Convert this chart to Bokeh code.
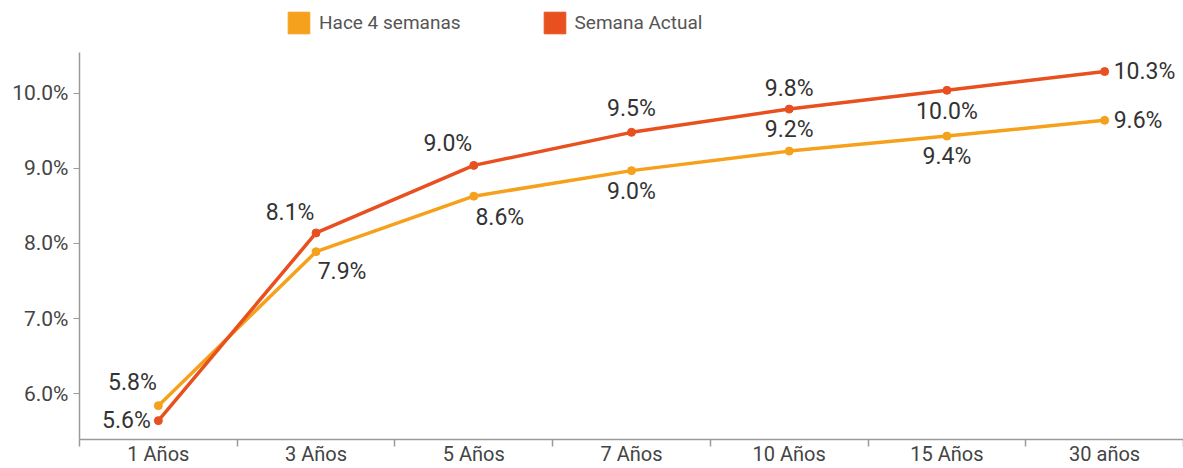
from bokeh.plotting import figure, ColumnDataSource
from bokeh.models import (Range1d, FixedTicker, SingleIntervalTicker, PrintfTickFormatter,
                          Legend, LegendItem)
from bokeh.core.properties import value
from bokeh.embed import file_html
from bokeh.resources import INLINE

# ---- data ----
categories = ["1 Años", "3 Años", "5 Años", "7 Años", "10 Años", "15 Años", "30 años"]
hace_4_semanas = [5.84, 7.89, 8.63, 8.97, 9.23, 9.43, 9.64]
semana_actual = [5.64, 8.14, 9.04, 9.48, 9.79, 10.04, 10.29]
series_names = ["Hace 4 semanas", "Semana Actual"]

# ---- styles / label placement ----
ORANGE = "#f6a11c"
RED = "#e8501f"
FONT = "Roboto"
orange_dx = [-26, 26, 26, 0, 0, 0, 9]
orange_dy = [-23, 20, 21, 21, -22, 20, 0]
orange_align = ["center"] * 6 + ["left"]
red_dx = [-32, -26, -26, 0, 0, 0, 9]
red_dy = [0, -20, -22, -24, -21, 21, 0]
red_align = ["center"] * 6 + ["left"]

n = len(categories)
centers = [i + 0.5 for i in range(n)]  # category band centres on the x scale

Y_LO, Y_AXIS_TOP, Y_HI = 5.389, 10.545, 11.236

p = figure(width=1183, height=468, output_backend="svg", toolbar_location=None,
           x_range=Range1d(0, n), y_range=Range1d(Y_LO, Y_HI))
p.min_border_left = 79
p.min_border_right = 0
p.min_border_top = 0
p.min_border_bottom = 0
p.outline_line_color = None
p.xgrid.visible = False
p.ygrid.visible = False
p.background_fill_color = "white"
p.border_fill_color = "white"

# y axis
ya = p.yaxis[0]
ya.bounds = (Y_LO, Y_AXIS_TOP)
ya.ticker = SingleIntervalTicker(interval=1)
ya.formatter = PrintfTickFormatter(format="%.1f%%")
ya.minor_tick_line_color = None
ya.major_tick_in = 0
ya.major_tick_out = 6
ya.major_tick_line_color = "#9a9a9a"
ya.axis_line_color = "#9a9a9a"
ya.axis_line_width = 1.5
ya.major_label_text_font = FONT
ya.major_label_text_font_size = "21px"
ya.major_label_text_color = "#444444"
ya.major_label_standoff = 5

# x axis: labels at band centres, tick marks at band boundaries
xa = p.xaxis[0]
xa.ticker = FixedTicker(ticks=centers, minor_ticks=list(range(n + 1)))
xa.major_label_overrides = {c: lab for c, lab in zip(centers, categories)}
xa.major_tick_line_color = None
xa.major_tick_in = 0
xa.major_tick_out = 0
xa.minor_tick_in = 0
xa.minor_tick_out = 7
xa.minor_tick_line_color = "#9a9a9a"
xa.minor_tick_line_width = 1.5
xa.axis_line_color = "#9a9a9a"
xa.axis_line_width = 1.5
xa.major_label_standoff = -5
xa.major_label_text_font = FONT
xa.major_label_text_font_size = "20px"
xa.major_label_text_color = "#444444"

src_o = ColumnDataSource(dict(x=centers, y=hace_4_semanas,
                              lbl=["%.1f%%" % v for v in hace_4_semanas],
                              dx=orange_dx, dy=orange_dy, al=orange_align))
src_r = ColumnDataSource(dict(x=centers, y=semana_actual,
                              lbl=["%.1f%%" % v for v in semana_actual],
                              dx=red_dx, dy=red_dy, al=red_align))

for src, col in ((src_o, ORANGE), (src_r, RED)):
    p.line("x", "y", source=src, line_color=col, line_width=3.5, line_join="round")
    p.scatter("x", "y", source=src, size=8, fill_color=col, line_color=col)
    p.text("x", "y", text="lbl", source=src, x_offset="dx", y_offset="dy",
           text_align="al", text_baseline="middle", text_font=value(FONT),
           text_font_size="23px", text_color="#333333")

# legend squares (renderers that draw nothing in the plot area)
nan = float("nan")
dummy = dict(left=[nan], right=[nan], bottom=[nan], top=[nan])
q_o = p.quad(source=ColumnDataSource(dummy), left="left", right="right", bottom="bottom", top="top",
             fill_color=ORANGE, line_color=ORANGE)
q_r = p.quad(source=ColumnDataSource(dict(dummy)), left="left", right="right", bottom="bottom", top="top",
             fill_color=RED, line_color=RED)
legend = Legend(items=[LegendItem(label=series_names[0], renderers=[q_o]),
                       LegendItem(label=series_names[1], renderers=[q_r])],
                orientation="horizontal", location=(206, 403))
legend.glyph_width = 27
legend.glyph_height = 27
legend.label_standoff = 7
legend.spacing = 80
legend.padding = 0
legend.margin = 0
legend.border_line_color = None
legend.background_fill_alpha = 0
legend.label_text_font = FONT
legend.label_text_font_size = "19px"
legend.label_text_color = "#555555"
legend.label_height = 27
p.add_layout(legend, "center")

open("out.html", "w").write(file_html(p, INLINE))
